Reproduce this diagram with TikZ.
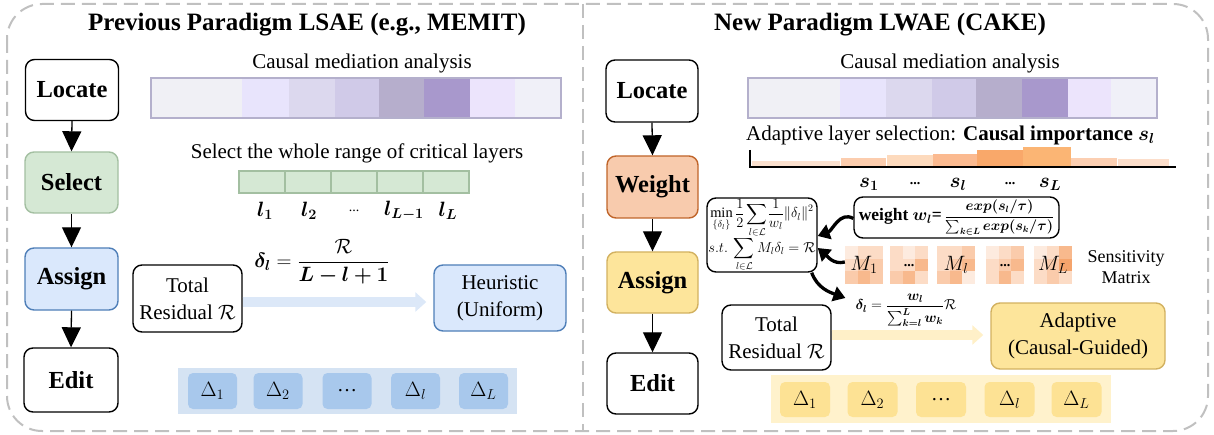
\documentclass[tikz,border=0pt]{standalone}
\usepackage{fontspec}
\setmainfont{Liberation Serif}
\usepackage{amsmath,amssymb,bm}
\usetikzlibrary{arrows.meta}
\definecolor{dashgray}{HTML}{C0C0C0}
\definecolor{selfill}{HTML}{D5E8D4}
\definecolor{seldraw}{HTML}{A3BFA1}
\definecolor{bluefill}{HTML}{DAE8FC}
\definecolor{bluedraw}{HTML}{4F7FB8}
\definecolor{wfill}{HTML}{F8CBAD}
\definecolor{wdraw}{HTML}{C0652A}
\definecolor{yfill}{HTML}{FDE59B}
\definecolor{ydraw}{HTML}{D2B160}
\definecolor{barrow}{HTML}{DCE8F8}
\definecolor{yarrow}{HTML}{FFF0C8}
\definecolor{dbbg}{HTML}{D5E3F3}
\definecolor{dbin}{HTML}{A8C8EC}
\definecolor{dybg}{HTML}{FFF2CC}
\definecolor{dyin}{HTML}{FDE294}
\definecolor{pborder}{HTML}{B4B0CC}
\definecolor{pc1}{HTML}{F0F0F5}
\definecolor{pc2}{HTML}{E8E4FC}
\definecolor{pc3}{HTML}{DCD8EE}
\definecolor{pc4}{HTML}{D0CAE8}
\definecolor{pc5}{HTML}{B6AECC}
\definecolor{pc6}{HTML}{A898CC}
\definecolor{pc7}{HTML}{ECE4FC}
\definecolor{pc8}{HTML}{F0F0F8}
\definecolor{bc1}{HTML}{FBE0CE}
\definecolor{bc2}{HTML}{FCCDAE}
\definecolor{bc3}{HTML}{FDDABD}
\definecolor{bc4}{HTML}{FBBA90}
\definecolor{bc5}{HTML}{F9A86A}
\definecolor{bc6}{HTML}{FBB574}
\definecolor{bc7}{HTML}{FCCFB2}
\definecolor{bc8}{HTML}{FCDECB}
\definecolor{ms1}{HTML}{FDEBDF}
\definecolor{ms2}{HTML}{FCDCC6}
\definecolor{ms3}{HTML}{FACBAB}
\definecolor{ms4}{HTML}{F8B98D}
\definecolor{ms5}{HTML}{F5A46C}
\newcommand\fsz[2]{\fontsize{#1}{#2}\selectfont}
\tikzset{
  stage/.style={draw, rounded corners=9pt, line width=1.4pt, inner sep=0pt,
    font=\fsz{24.5}{28}\bfseries},
  flow/.style={-{Triangle[width=19pt,length=20pt]}, line width=1.3pt},
  txt/.style={inner sep=0pt, font=\fsz{21}{25}},
  plain/.style={draw, rounded corners=9pt, line width=1.4pt, inner sep=0pt, align=center,
    font=\fsz{21}{27}},
  dcell/.style={rounded corners=5pt, inner sep=0pt, font=\fsz{20}{24}},
  curv/.style={-{Triangle[width=15pt,length=12pt]}, line width=3.3pt},
}
\begin{document}
\begin{tikzpicture}[x=1pt,y=1pt]
\useasboundingbox (0,0) rectangle (1214,-435);
% frame
\draw[dashgray, line width=2pt, dash pattern=on 14pt off 7pt, rounded corners=35pt] (7,-4) rectangle (1208,-431);
\draw[dashgray, line width=2pt, dash pattern=on 14pt off 7pt] (583,-4) -- (583,-431);

% ================= LEFT =================
\node[inner sep=0pt, font=\fsz{25}{29}\bfseries] (ltitle) at (307,-25) {Previous Paradigm LSAE (e.g., MEMIT)};
\node[stage, fill=white, minimum width=93pt, minimum height=61pt] (lloc) at (72,-90) {Locate};
\node[stage, fill=selfill, draw=seldraw, minimum width=93pt, minimum height=61pt] (lsel) at (71.5,-182.5) {Select};
\node[stage, fill=bluefill, draw=bluedraw, minimum width=93pt, minimum height=62pt] (lasg) at (71.5,-279) {Assign};
\node[stage, fill=white, minimum width=94pt, minimum height=64pt] (ledit) at (71,-380) {Edit};
\draw[flow] (lloc.south) -- (lsel.north);
\draw[flow] (lsel.south) -- (lasg.north);
\draw[flow] (lasg.south) -- (ledit.north);

\node[txt] (lcma) at (362,-63) {Causal mediation analysis};
\foreach \a/\b [count=\i] in {151/242,242/289,289/335,335/379,379/424,424/470,470/515,515/561}
  \fill[pc\i] (\a,-78) rectangle (\b,-118);
\draw[pborder, line width=1.5pt] (151,-78) rectangle (561,-118);

\node[txt] (lsw) at (357,-153) {Select the whole range of critical layers};
\foreach \i in {0,...,4}
  \draw[fill=selfill, draw=seldraw, line width=1.3pt] ({239+46*\i},-171) rectangle ({285+46*\i},-193);
\node[inner sep=0pt, font=\fsz{20}{24}] (ll1) at (265,-211) {$\bm{l_1}$};
\node[inner sep=0pt, font=\fsz{20}{24}] (ll2) at (309,-211) {$\bm{l_2}$};
\node[inner sep=0pt, font=\fsz{14}{16}] (ll3) at (354,-211) {...};
\node[inner sep=0pt, font=\fsz{20}{24}] (ll4) at (404,-211) {$\bm{l_{L-1}}$};
\node[inner sep=0pt, font=\fsz{20}{24}] (ll5) at (448,-211) {$\bm{l_L}$};

\node[inner sep=0pt, font=\fsz{20}{24}] (ldelta) at (322,-262) {$\bm{\delta_l} = \dfrac{\mathcal{R}}{\bm{L-l+1}}$};
\node[plain, fill=white, minimum width=109pt, minimum height=67pt] (ltot) at (187.5,-298.5) {Total\\Residual $\mathcal{R}$};
\node[plain, fill=bluefill, draw=bluedraw, minimum width=132pt, minimum height=66pt] (lheur) at (500,-298) {Heuristic\\(Uniform)};
\draw[barrow, line width=10pt, -{Triangle[width=19pt,length=11pt]}, shorten >=7pt]
  ([yshift=-3.5pt]ltot.east) -- ([yshift=-4pt]lheur.west);

\fill[dbbg] (178,-368) rectangle (517,-414);
\foreach \x/\t [count=\i] in {212.5/{$\Delta_1$},278/{$\Delta_2$},347/{\dots},415.5/{$\Delta_l$},483.5/{$\Delta_L$}}
  \node[dcell, fill=dbin, minimum width=49pt, minimum height=36pt] (ld\i) at (\x,-391) {\t};

% ================= RIGHT =================
\node[inner sep=0pt, font=\fsz{25}{29}\bfseries] (rtitle) at (880,-25) {New Paradigm LWAE (CAKE)};
\node[stage, fill=white, minimum width=92pt, minimum height=62pt] (rloc) at (652,-91) {Locate};
\node[stage, fill=wfill, draw=wdraw, minimum width=91pt, minimum height=62pt] (rwt) at (652.5,-187) {Weight};
\node[stage, fill=yfill, draw=ydraw, minimum width=91pt, minimum height=61pt] (rasg) at (652.5,-282.5) {Assign};
\node[stage, fill=white, minimum width=91pt, minimum height=61pt] (redit) at (652.5,-383.5) {Edit};
\draw[flow] (rloc.south) -- (rwt.north);
\draw[flow] (rwt.south) -- (rasg.north);
\draw[flow] (rasg.south) -- (redit.north);

\node[txt] (rcma) at (950,-63) {Causal mediation analysis};
\foreach \a/\b [count=\i] in {748/840,840/886,886/932,932/976,976/1022,1022/1068,1068/1111,1111/1157}
  \fill[pc\i] (\a,-78) rectangle (\b,-118);
\draw[pborder, line width=1.5pt] (748,-78) rectangle (1157,-118);

\node[txt, anchor=west] (rals) at (746,-135) {Adaptive layer selection: \textbf{Causal importance} $\bm{s_l}$};
\foreach \a/\b/\h [count=\i] in {752/840/161,841/886/158,887/933/155,933/977/154,977/1023/150,1023/1071/147,1071/1117/158,1118/1169/159}
  \fill[bc\i] (\a,-\h) rectangle (\b,-166);
\draw[line width=1.5pt] (750,-150) -- (750,-167) -- (1176,-167);
\node[inner sep=0pt, font=\fsz{20}{24}] (s1) at (869,-184) {$\bm{s_1}$};
\node[inner sep=0pt, font=\fsz{14}{16}\bfseries] (s2) at (915,-184) {...};
\node[inner sep=0pt, font=\fsz{20}{24}] (s3) at (958,-184) {$\bm{s_l}$};
\node[inner sep=0pt, font=\fsz{14}{16}\bfseries] (s4) at (1010,-184) {...};
\node[inner sep=0pt, font=\fsz{20}{24}] (s5) at (1050,-184) {$\bm{s_L}$};

\node[draw, rounded corners=9pt, line width=1.4pt, inner sep=0pt, minimum width=205pt, minimum height=41pt,
  font=\fsz{17.5}{20}] (wf) at (956.5,-217.5)
  {\textbf{weight} $\bm{w_l}${\bfseries=}\,{\fsz{13.5}{15}$\dfrac{\bm{exp(s_l/\tau)}}{\textstyle\sum_{\bm{k\in L}}\bm{exp(s_k/\tau)}}$}};

\node[draw, rounded corners=9pt, line width=1.4pt, inner sep=0pt, minimum width=110pt, minimum height=74pt,
  align=center, font=\fsz{14.4}{15}] (opt) at (762,-235)
  {$\displaystyle\min_{\{\delta_l\}}\frac{1}{2}\sum_{l\in\mathcal{L}}\!\frac{1}{w_l}\|\delta_l\|^2$\\[-1pt]
   $\displaystyle s.t.\ \sum_{l\in\mathcal{L}}M_l\delta_l=\mathcal{R}$};

% sensitivity matrices
\foreach \mx/\pat [count=\k] in {845/{1,2,2,2,3,3,3,4,3},890/{2,1,2,2,2,4,3,4,2},937/{2,2,3,2,3,4,3,4,1},986/{1,2,3,2,3,4,2,4,2},1034/{1,2,4,2,3,5,2,3,2}}{
  \foreach \v [count=\j from 0] in \pat {
    \pgfmathtruncatemacro\row{int(\j/3)}
    \pgfmathtruncatemacro\col{mod(\j,3)}
    \fill[ms\v] ({\mx+12.67*\col},{-246-12.67*\row}) rectangle ({\mx+12.67*(\col+1)},{-246-12.67*(\row+1)});
  }
}
\node[minimum size=38pt, inner sep=0pt, font=\fsz{20}{24}] (mat1) at (864,-265) {\raisebox{-3pt}{$M_1$}};
\node[minimum size=38pt, inner sep=0pt, font=\fsz{14}{16}\bfseries] (mat2) at (909,-265) {\raisebox{-3pt}{...}};
\node[minimum size=38pt, inner sep=0pt, font=\fsz{20}{24}] (mat3) at (956,-265) {\raisebox{-3pt}{$M_l$}};
\node[minimum size=38pt, inner sep=0pt, font=\fsz{14}{16}\bfseries] (mat4) at (1005,-265) {\raisebox{-3pt}{...}};
\node[minimum size=38pt, inner sep=0pt, font=\fsz{20}{24}] (mat5) at (1053,-265) {\raisebox{-3pt}{$M_L$}};
\node[inner sep=0pt, align=center, font=\fsz{18}{21}] (sens) at (1126,-267) {Sensitivity\\Matrix};

\node[inner sep=0pt, font=\fsz{14.5}{17}] (rdelta) at (906,-310) {$\bm{\delta_l}=\dfrac{\bm{w_l}}{\sum_{\bm{k=l}}^{\bm{L}}\bm{w_k}}\mathcal{R}$};

\draw[curv] ([yshift=-1pt]wf.west) to[out=150,in=20] ([yshift=-1pt]opt.east);
\draw[curv] ([yshift=3pt]mat1.west) to[out=195,in=-40] ([yshift=-13pt]opt.east);
\draw[curv] ([xshift=-6pt]opt.south east) to[out=-70,in=160] ([xshift=-10pt,yshift=12pt]rdelta.west);

\node[plain, fill=white, minimum width=109pt, minimum height=65pt] (rtot) at (776.5,-337.5) {Total\\Residual $\mathcal{R}$};
\node[plain, fill=yfill, draw=ydraw, minimum width=174pt, minimum height=66pt] (radp) at (1078,-336) {Adaptive\\(Causal-Guided)};
\draw[yarrow, line width=10pt, -{Triangle[width=19pt,length=11pt]}, shorten >=7pt]
  ([yshift=2.5pt]rtot.east) -- ([yshift=1pt]radp.west);

\fill[dybg] (771,-375) rectangle (1111,-423);
\foreach \x/\t [count=\i] in {805/{$\Delta_1$},872.5/{$\Delta_2$},941/{\dots},1009.5/{$\Delta_l$},1076.5/{$\Delta_L$}}
  \node[dcell, fill=dyin, minimum width=50pt, minimum height=35pt] (rd\i) at (\x,-399.5) {\t};
\end{tikzpicture}
\end{document}
